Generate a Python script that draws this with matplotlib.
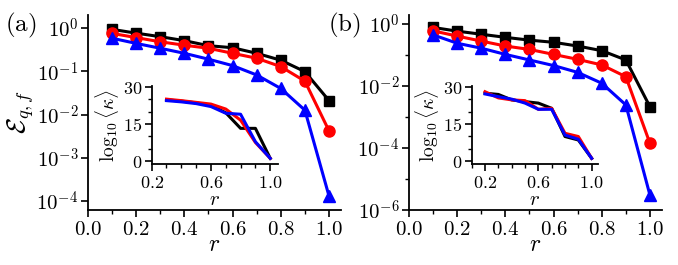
import matplotlib
matplotlib.use('Agg')
import matplotlib.pyplot as plt
import numpy as np
from matplotlib.ticker import FixedLocator, FuncFormatter, MultipleLocator, NullFormatter

plt.rcParams['mathtext.fontset'] = 'cm'
plt.rcParams['font.family'] = 'serif'

# datos
r = [0.1, 0.2, 0.3, 0.4, 0.5, 0.6, 0.7, 0.8, 0.9, 1.0]

# panel (a)
a_negro = [0.93, 0.76, 0.63, 0.51, 0.39, 0.35, 0.26, 0.18, 0.098, 0.021]
a_rojo = [0.75, 0.60, 0.48, 0.40, 0.34, 0.26, 0.20, 0.128, 0.059, 0.0042]
a_azul = [0.58, 0.44, 0.34, 0.26, 0.19, 0.135, 0.082, 0.040, 0.0126, 0.000131]

# panel (b), en log10
b_negro_log = [-0.11, -0.23, -0.33, -0.43, -0.52, -0.59, -0.71, -0.86, -1.16, -2.67]
b_rojo_log = [-0.22, -0.39, -0.55, -0.71, -0.82, -0.98, -1.14, -1.32, -1.70, -3.85]
b_azul_log = [-0.35, -0.62, -0.78, -0.98, -1.16, -1.34, -1.56, -1.91, -2.61, -5.52]

# insets: log10<kappa>
ia_r = [0.3, 0.4, 0.5, 0.6, 0.7, 0.8, 0.9, 1.0]
ia_negro = [24.7, 24.2, 23.5, 22.5, 19.5, 13.2, 13.2, 1.1]
ia_rojo = [25.0, 24.4, 23.7, 23.0, 21.0, 16.5, 7.5, 1.1]
ia_azul = [24.4, 23.9, 23.2, 22.0, 19.3, 18.9, 7.8, 1.1]

ib_r = [0.2, 0.3, 0.4, 0.5, 0.6, 0.7, 0.8, 0.9, 1.0]
ib_negro = [27.4, 26.9, 24.7, 24.0, 23.4, 21.3, 9.9, 8.5, 1.1]
ib_rojo = [28.0, 25.5, 24.7, 24.4, 20.9, 21.3, 11.2, 9.9, 1.1]
ib_azul = [27.1, 26.0, 25.0, 23.4, 20.9, 20.9, 10.5, 8.8, 1.1]

fmt_lin = FuncFormatter(lambda v, p: f'${v:.1f}$')
fmt_int = FuncFormatter(lambda v, p: f'${v:.0f}$')
fmt_log = FuncFormatter(lambda v, p: f'$10^{{{int(round(np.log10(v)))}}}$')

lw = 2.2


def estilo(ax, tam):
    ax.spines['top'].set_visible(False)
    ax.spines['right'].set_visible(False)
    ax.spines['left'].set_linewidth(1.3)
    ax.spines['bottom'].set_linewidth(1.3)
    ax.tick_params(which='major', direction='out', length=5, width=1.2, labelsize=tam, pad=2)
    ax.tick_params(which='minor', direction='out', length=3, width=1.0)


def principal(ax, negro, rojo, azul, ylim, mayores, menores):
    ax.plot(r, negro, color='black', lw=lw, marker='s', markersize=7, clip_on=False, zorder=3)
    ax.plot(r, rojo, color='red', lw=lw, marker='o', markersize=8, clip_on=False, zorder=4)
    ax.plot(r, azul, color='blue', lw=lw, marker='^', markersize=9, clip_on=False, zorder=5)
    ax.set_yscale('log')
    ax.set_xlim(0, 1.05)
    ax.set_ylim(*ylim)
    ax.xaxis.set_major_locator(FixedLocator([0.0, 0.2, 0.4, 0.6, 0.8, 1.0]))
    ax.xaxis.set_minor_locator(FixedLocator([0.1, 0.3, 0.5, 0.7, 0.9]))
    ax.xaxis.set_major_formatter(fmt_lin)
    ax.yaxis.set_major_locator(FixedLocator(mayores))
    ax.yaxis.set_minor_locator(FixedLocator(menores))
    ax.yaxis.set_major_formatter(fmt_log)
    ax.yaxis.set_minor_formatter(NullFormatter())
    estilo(ax, 15)
    ax.set_xlabel('$r$', fontsize=17, labelpad=-4)


def inset(ax, x, negro, rojo, azul, xlim):
    ax.plot(x, negro, color='black', lw=lw)
    ax.plot(x, rojo, color='red', lw=lw)
    ax.plot(x, azul, color='blue', lw=lw)
    ax.set_xlim(*xlim)
    ax.set_ylim(-1.2, 30.3)
    ax.xaxis.set_major_locator(FixedLocator([0.2, 0.6, 1.0]))
    ax.xaxis.set_minor_locator(MultipleLocator(0.1))
    ax.xaxis.set_major_formatter(fmt_lin)
    ax.yaxis.set_major_locator(FixedLocator([0, 15, 30]))
    ax.yaxis.set_minor_locator(MultipleLocator(5))
    ax.yaxis.set_major_formatter(fmt_int)
    ax.patch.set_alpha(0)
    estilo(ax, 13)
    ax.set_xlabel('$r$', fontsize=15, labelpad=-1)
    ax.set_ylabel(r'$\log_{10}\langle\mathrm{\kappa}\rangle$', fontsize=14, labelpad=1)


fig = plt.figure(figsize=(6.78, 2.65), dpi=100)

ax_a = fig.add_axes([0.1298, 0.2075, 0.3732, 0.7358])
principal(ax_a, a_negro, a_rojo, a_azul, (10 ** -4.208, 10 ** 0.30),
          [1e0, 1e-1, 1e-2, 1e-3, 1e-4], [])
ax_a.set_ylabel(r'$\mathcal{E}_{q,f}$', fontsize=19, labelpad=0)

ax_b = fig.add_axes([0.6032, 0.2075, 0.3732, 0.7358])
principal(ax_b, 10 ** np.array(b_negro_log), 10 ** np.array(b_rojo_log), 10 ** np.array(b_azul_log),
          (1e-6, 10 ** 0.29), [1e0, 1e-2, 1e-4, 1e-6], [1e-1, 1e-3, 1e-5])

ax_ia = fig.add_axes([0.2237, 0.3811, 0.1858, 0.2943])
inset(ax_ia, ia_r, ia_negro, ia_rojo, ia_azul, (0.2, 1.05))

ax_ib = fig.add_axes([0.6957, 0.3811, 0.1858, 0.2943])
inset(ax_ib, ib_r, ib_negro, ib_rojo, ib_azul, (0.1, 1.045))

fig.text(0.008, 0.905, r'$(\mathrm{a})$', fontsize=18, va='center', ha='left')
fig.text(0.484, 0.905, r'$(\mathrm{b})$', fontsize=18, va='center', ha='left')

fig.savefig('out.png', dpi=100)
